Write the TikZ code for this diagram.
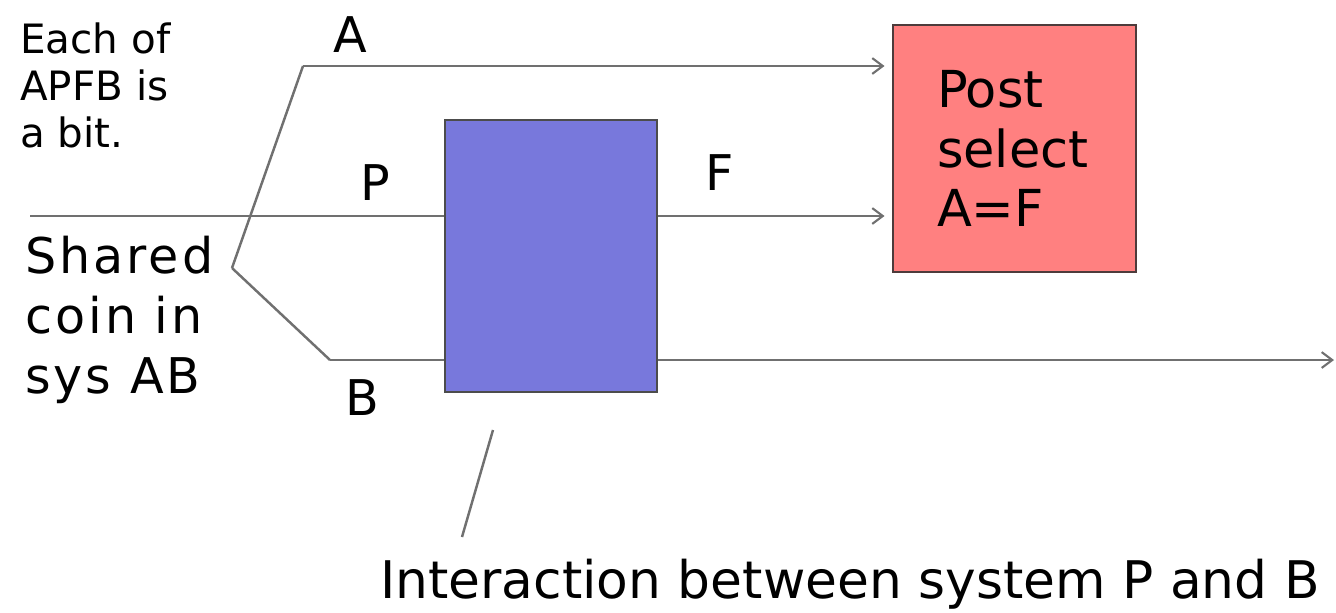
\documentclass[tikz,border=0pt]{standalone}
\usepackage{fontspec}
\setmainfont{DejaVu Sans}
\usetikzlibrary{arrows.meta}

\definecolor{wire}{HTML}{707070}
\definecolor{boxblue}{HTML}{7878DC}
\definecolor{boxred}{HTML}{FF8080}
\definecolor{redrim}{HTML}{4D3B3B}

\tikzset{
  wire/.style={draw=wire, line width=1.4pt},
  tip/.style={-{Straight Barb[length=6pt,width=9pt,line width=1.2pt]}},
  big/.style={font=\fontsize{28}{34}\selectfont, inner sep=0pt},
  small/.style={font=\fontsize{23}{27}\selectfont, inner sep=0pt},
}

\begin{document}
\begin{tikzpicture}[x=0.2mm, y=-0.2mm]
  \useasboundingbox (0,0) rectangle (1336,612);

  \node[draw=black!70, line width=1.6pt, fill=boxblue,
        minimum width=42.4mm, minimum height=54.4mm] (interact) at (551,256) {};
  \node[draw=redrim, line width=1.6pt, fill=boxred,
        minimum width=48.6mm, minimum height=49.4mm,
        text width=31mm, align=left, big,
        font=\fontsize{29}{34}\selectfont] (post) at (1014.5,148.5)
        {Post\\select\\A=F};

  \coordinate (pin)   at (30,216);
  \coordinate (aleft) at (303,66);
  \coordinate (fork)  at (232,268);
  \coordinate (bleft) at (330,360);
  \coordinate (bend)  at (1334,360);
  \coordinate (ptop)  at (493,430);
  \coordinate (pbot)  at (462,537);

  \begin{scope}[every node/.style={big}]
    \node (a) at (350,35)  {A};
    \node (p) at (375,183) {P};
    \node (f) at (720,173) {F};
    \node (b) at (362,398) {B};
  \end{scope}

  \node[small, align=left, anchor=north west] (bits) at (20,22)
    {Each of\\APFB is\\a bit.};
  \node[big, align=left, anchor=north west,
        font=\fontsize{28}{34}\selectfont\addfontfeatures{LetterSpace=6}] (coin) at (25,236)
    {Shared\\coin in\\sys AB};
  \node[big, font=\fontsize{29.5}{36}\selectfont] (note) at (850,584)
    {Interaction between system P and B};

  \draw[wire] (fork) -- (aleft);
  \draw[wire] (fork) -- (bleft);
  \draw[wire, tip, shorten >=4pt] (aleft) -- (aleft -| post.west);
  \draw[wire] (pin) -- (pin -| interact.west);
  \draw[wire, tip, shorten >=4pt] (pin -| interact.east) -- (pin -| post.west);
  \draw[wire] (bleft) -- (bleft -| interact.west);
  \draw[wire, tip] (bleft -| interact.east) -- (bend);
  \draw[wire] (ptop) -- (pbot);
\end{tikzpicture}
\end{document}
